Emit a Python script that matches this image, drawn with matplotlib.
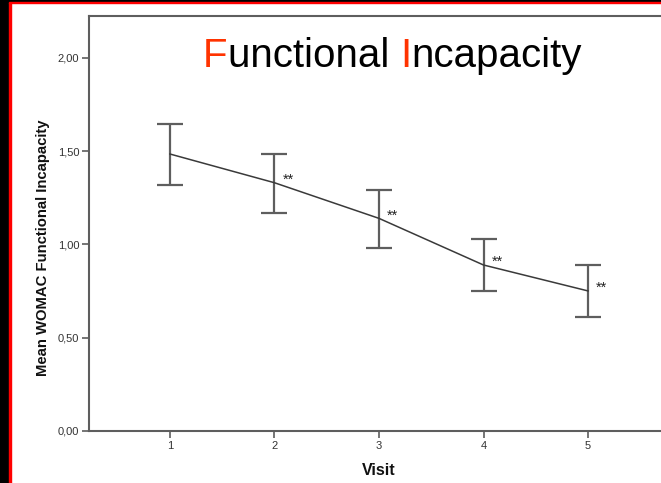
import matplotlib
matplotlib.use("Agg")
import matplotlib.pyplot as plt
from matplotlib.patches import Rectangle

visits = [1, 2, 3, 4, 5]
means = [1.485, 1.331, 1.140, 0.890, 0.751]
upper = [1.646, 1.487, 1.292, 1.030, 0.890]
lower = [1.320, 1.171, 0.983, 0.749, 0.611]
marks = ["", "**", "**", "**", "**"]
yticks = [0.0, 0.5, 1.0, 1.5, 2.0]
ytick_labels = ["0,00", "0,50", "1,00", "1,50", "2,00"]
title_segments = [("F", "#ff3300"), ("unctional ", "black"), ("I", "#ff3300"), ("ncapacity", "black")]

W, H = 661, 483
FONT = "Liberation Sans"
fig = plt.figure(figsize=(W / 100, H / 100), dpi=100)
fig.patch.set_facecolor("white")

# border decorations
fig.patches.append(Rectangle((0, 0), 9 / W, 1, transform=fig.transFigure, color="black", zorder=0))
fig.patches.append(Rectangle((9 / W, 0), 2 / W, 1, transform=fig.transFigure, color="#ff0000", zorder=0))
fig.patches.append(Rectangle((0, 1 - 1.5 / H), 1, 1.5 / H, transform=fig.transFigure, color="black", zorder=0))
fig.patches.append(Rectangle((9 / W, 1 - 3 / H), 1, 1.5 / H, transform=fig.transFigure, color="#ff0000", zorder=0))

left, right, top, bottom = 89, 669, 16, 431
ax = fig.add_axes([left / W, 1 - bottom / H, (right - left) / W, (bottom - top) / H])
ax.set_xlim(0.225, 5.775)
ax.set_ylim(0, 2.225)

err_lo = [m - l for m, l in zip(means, lower)]
err_hi = [u - m for m, u in zip(means, upper)]
ax.errorbar(visits, means, yerr=[err_lo, err_hi], fmt="none", ecolor="#5e5e5e",
            elinewidth=1.6, capsize=9.5, capthick=1.6, zorder=2)
ax.plot(visits, means, color="#3a3a3a", lw=1.1, zorder=3)
for v, m, t in zip(visits, means, marks):
    if t:
        ax.annotate(t, (v, m), xytext=(5.8, -0.8), textcoords="offset points",
                    fontsize=10.5, color="#222222", va="baseline", ha="left",
                    fontfamily=FONT)

for s in ["left", "bottom", "top", "right"]:
    ax.spines[s].set_color("#5e5e5e")
    ax.spines[s].set_linewidth(1.5)

ax.set_yticks(yticks)
ax.set_yticklabels(ytick_labels)
ax.set_xticks(visits)
ax.set_xticklabels([str(v) for v in visits])
ax.tick_params(axis="both", direction="out", length=5, width=1.2, color="#5e5e5e",
               labelsize=8, labelcolor="#333333", pad=2)
for lab in ax.get_xticklabels() + ax.get_yticklabels():
    lab.set_fontfamily(FONT)

ax.set_xlabel("Visit", fontsize=11.5, fontweight="bold", fontfamily=FONT,
              labelpad=9, color="#111111")
ax.set_ylabel("Mean WOMAC Functional Incapacity", fontsize=10.7, fontweight="bold",
              fontfamily=FONT, color="#111111")
ax.yaxis.set_label_coords(-0.068, (431 - 248) / 415)

# title: consecutive segments, red initials
TS = 29
x0 = 203 / W
base = 1 - 67 / H
fig.canvas.draw()
r = fig.canvas.get_renderer()


def seg_width(s):
    # width of s including trailing spaces: measure s + "x" minus "x"
    a = fig.text(0, 0, s + "x", fontsize=TS, fontfamily=FONT)
    b = fig.text(0, 0, "x", fontsize=TS, fontfamily=FONT)
    w = a.get_window_extent(r).width - b.get_window_extent(r).width
    a.remove(); b.remove()
    return w


x = x0
for s, c in title_segments:
    fig.text(x, base, s, color=c, fontsize=TS, fontfamily=FONT, ha="left", va="baseline")
    x += seg_width(s) / W

fig.savefig("out.png", dpi=100, facecolor="white")
